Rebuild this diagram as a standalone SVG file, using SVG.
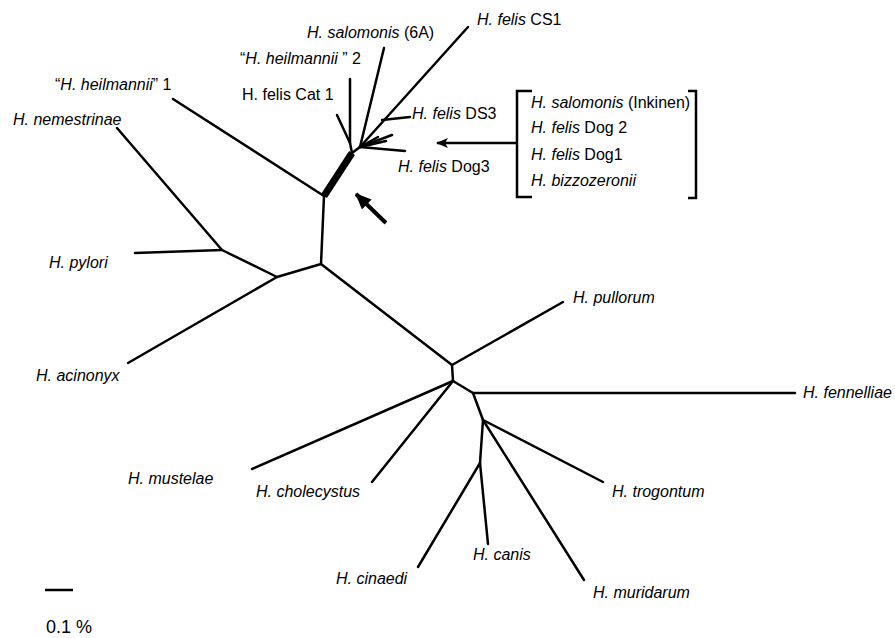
<svg xmlns="http://www.w3.org/2000/svg" width="895" height="638" viewBox="0 0 895 638">
<style>
text{font-family:"Liberation Sans",Arial,sans-serif;font-size:16px;fill:#000}
.i{font-style:italic}
.br{stroke:#000;stroke-width:2.5;fill:none;stroke-linecap:round;stroke-linejoin:round}
.th{stroke:#000;stroke-width:7;fill:none}
.bk{stroke:#000;stroke-width:2.5;fill:none}
</style>
<defs>
<marker id="ah" viewBox="0 0 12 10" refX="11" refY="5" markerWidth="12" markerHeight="10" markerUnits="userSpaceOnUse" orient="auto">
<path d="M0,0 L12,5 L0,10 L3,5 Z" fill="#000"/>
</marker>
<marker id="bigah" viewBox="0 0 16 14" refX="15" refY="7" markerWidth="16" markerHeight="14" markerUnits="userSpaceOnUse" orient="auto">
<path d="M0,0 L16,7 L0,14 Z" fill="#000"/>
</marker>
</defs>
<rect width="895" height="638" fill="#fff"/>
<g id="connectors">
<path class="th" d="M324,196 L352,153"/>
<path class="br" d="M173,99 L324,196 L321,264 L277,277 L222,250 L117,128"/>
<path class="br" d="M135,253 L222,250"/>
<path class="br" d="M277,277 L128,363"/>
<path class="br" d="M321,264 L452,365 L563,302"/>
<path class="br" d="M452,365 L453,381 L252,469"/>
<path class="br" d="M453,381 L372,482"/>
<path class="br" d="M453,381 L473,393 L795,393"/>
<path class="br" d="M473,393 L483,420 L603,482"/>
<path class="br" d="M483,420 L584,580"/>
<path class="br" d="M483,420 L480,463 L488,544"/>
<path class="br" d="M480,463 L418,567"/>
<path class="br" d="M352,153 L350,143 L350,79"/>
<path class="br" d="M350,143 L337,115"/>
<path class="br" d="M352,153 L360,147 L384,48"/>
<path class="br" d="M360,147 L468,27"/>
<path class="br" d="M382,120 L410,117"/>
<path class="br" d="M360,147 L392,135"/>
<path class="br" d="M360,147 L386,141"/>
<path class="br" d="M360,147 L378,137"/>
<path class="br" d="M360,147 L405,151"/>
<line x1="386" y1="223" x2="356" y2="194" stroke="#000" stroke-width="4" marker-end="url(#bigah)"/>
<line x1="517" y1="143" x2="437" y2="143" stroke="#000" stroke-width="2.5" marker-end="url(#ah)"/>
</g>
<g id="n-cs1"><text x="477" y="25"><tspan class="i">H. felis</tspan> CS1</text></g>
<g id="n-sal6a"><text x="307" y="38"><tspan class="i">H. salomonis</tspan> (6A)</text></g>
<g id="n-heil2"><text x="240" y="64">“<tspan class="i">H. heilmannii</tspan> ” 2</text></g>
<g id="n-cat1"><text x="242" y="100">H. felis Cat 1</text></g>
<g id="n-ds3"><text x="412" y="119"><tspan class="i">H. felis</tspan> DS3</text></g>
<g id="n-dog3"><text x="398" y="172"><tspan class="i">H. felis</tspan> Dog3</text></g>
<g id="n-heil1"><text x="55" y="90">“<tspan class="i">H. heilmannii</tspan>” 1</text></g>
<g id="n-nem"><text class="i" x="13" y="125">H. nemestrinae</text></g>
<g id="n-pyl"><text class="i" x="49" y="268">H. pylori</text></g>
<g id="n-aci"><text class="i" x="36" y="381">H. acinonyx</text></g>
<g id="n-pul"><text class="i" x="573" y="303">H. pullorum</text></g>
<g id="n-fen"><text class="i" x="803" y="398">H. fennelliae</text></g>
<g id="n-mus"><text class="i" x="128" y="484">H. mustelae</text></g>
<g id="n-cho"><text class="i" x="256" y="497">H. cholecystus</text></g>
<g id="n-tro"><text class="i" x="612" y="497">H. trogontum</text></g>
<g id="n-can"><text class="i" x="473" y="560">H. canis</text></g>
<g id="n-mur"><text class="i" x="593" y="598">H. muridarum</text></g>
<g id="n-cin"><text class="i" x="336" y="584">H. cinaedi</text></g>
<g id="n-group">
<path class="bk" d="M532,91 L517,91 L517,197 L532,197"/>
<path class="bk" d="M688,91 L696,91 L696,198 L688,198"/>
<text x="531" y="108"><tspan class="i">H. salomonis</tspan> (Inkinen)</text>
<text x="531" y="133"><tspan class="i">H. felis</tspan> Dog 2</text>
<text x="531" y="160"><tspan class="i">H. felis</tspan> Dog1</text>
<text class="i" x="531" y="186">H. bizzozeronii</text>
</g>
<g id="scale">
<line x1="45" y1="590" x2="73" y2="590" stroke="#000" stroke-width="2.5"/>
<text x="46" y="633" style="font-size:18px">0.1 %</text>
</g>
</svg>
